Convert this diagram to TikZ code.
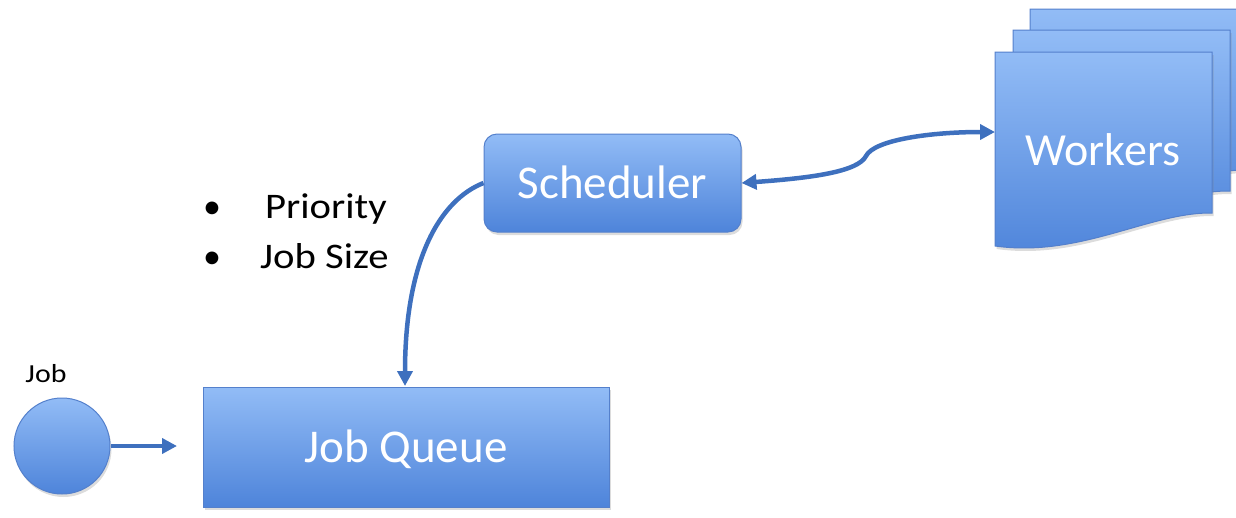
\documentclass[tikz,border=0pt]{standalone}
\usepackage{fontspec}
\setmainfont{Carlito}
\usetikzlibrary{arrows.meta,shadows}
\definecolor{qtop}{RGB}{146,188,246}
\definecolor{qbot}{RGB}{78,132,218}
\definecolor{qedge}{RGB}{84,128,204}
\definecolor{arr}{RGB}{62,112,190}
\tikzset{
  box/.style={draw=qedge, line width=1pt, top color=qtop, bottom color=qbot,
    text=white, font=\fontsize{47}{50}\selectfont, text height=30pt, text depth=0pt,
    inner sep=0pt, drop shadow={opacity=0.28, shadow xshift=1.5pt, shadow yshift=-3pt}},
  docshape/.style={draw=qedge, line width=1pt, top color=qtop, bottom color=qbot,
    drop shadow={opacity=0.28, shadow xshift=1.5pt, shadow yshift=-3pt}},
  conn/.style={draw=arr, line width=4.5pt, -{Triangle[length=15pt,width=15pt]}},
  conn2/.style={draw=arr, line width=4.5pt, {Triangle[length=15pt,width=15pt]}-{Triangle[length=15pt,width=15pt]}},
  blk/.style={text=black, inner sep=0pt, anchor=base},
}
\newcommand\workerpage{(995,52) -- (1212,52) -- (1212,213) .. controls (1150,212) and (1080,258) .. (995,246) -- cycle}
\begin{document}
\begin{tikzpicture}[x=1pt,y=-1pt]
\useasboundingbox (0,0) rectangle (1236,517);
\clip (0,0) rectangle (1236,517);
% Workers stack
\begin{scope}[shift={(35,-43)}]
  \path[docshape] \workerpage;
\end{scope}
\begin{scope}[shift={(18,-22)}]
  \path[docshape] \workerpage;
\end{scope}
\path[docshape] \workerpage;
\node[text=white, font=\fontsize{46}{50}\selectfont, inner sep=0pt, anchor=base] (workers) at (1103,165) {Workers};
\coordinate (wk) at (995,132);
% Job queue
\node[box, minimum width=406pt, minimum height=120pt] (queue) at (406,447) {Job Queue};
% Scheduler
\node[box, rounded corners=13pt, minimum width=257pt, minimum height=98pt] (sched) at (612.5,183) {Scheduler};
% Job circle
\node[box, circle, minimum size=96pt] (job) at (62,446) {};
\node[blk, font=\fontsize{26}{30}\selectfont] (joblabel) at (46,382) {\scalebox{1.15}[1]{Job}};
% Bullets
\node[blk, font=\fontsize{36}{40}\selectfont] (b1) at (212,218) {•};
\node[blk, font=\fontsize{36}{40}\selectfont] (b2) at (212,268) {•};
\node[blk, anchor=base west, font=\fontsize{36}{40}\selectfont] (prio) at (265,218) {\scalebox{1.13}[1]{Priority}};
\node[blk, anchor=base west, font=\fontsize{36}{40}\selectfont] (jsize) at (260,268) {\scalebox{1.13}[1]{Job Size}};
% connectors
\coordinate (jq) at (177,446);
\coordinate (qin) at (405,386);
\draw[conn] (job.east) -- (jq);
\draw[conn] (sched.west) .. controls (440,200) and (405,260) .. (qin);
\draw[conn2] (sched.east) .. controls (810,178) and (858,172) .. (866,156) .. controls (874,140) and (930,132) .. (wk);
\end{tikzpicture}
\end{document}
